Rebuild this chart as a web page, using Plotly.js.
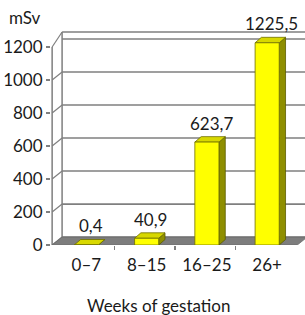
<!DOCTYPE html>
<html>
<head>
<meta charset="utf-8">
<script src="https://cdn.plot.ly/plotly-3.0.1.min.js"></script>
<style>html,body{margin:0;padding:0;background:#fff;}#chart{width:305px;height:315px;}</style>
</head>
<body>
<div id="chart"></div>
<script>
const categories = ['0–7', '8–15', '16–25', '26+'];
const doses = [0.4, 40.9, 623.7, 1225.5];
const doseLabels = ['0,4', '40,9', '623,7', '1225,5'];
const yTicks = [0, 200, 400, 600, 800, 1000, 1200];
const yTickText = ['0', '200', '400', '600', '800', '1000', '1200'];

// geometry (data units)
const X_MIN = -0.587, X_MAX = 3.628;
const Y_MAX = 1315;
const X_AXIS = -0.568;      // front vertical axis
const X_FLOOR_END = 3.50;
const WALL_DX = 0.165, WALL_DY = 48, WALL_TOP = 1291;
const BAR_W = 0.4, BAR_DX = 0.105, BAR_DY = 33;

const FONT = 'Lato, "Open Sans", sans-serif';
const FS = 17;
const TXT = '#1a1a1a';
const GRID = '#7f7f7f';

const shapes = [];
function line(x0, y0, x1, y1, color, width) {
  shapes.push({type: 'line', xref: 'x', yref: 'y', x0: x0, y0: y0, x1: x1, y1: y1,
    line: {color: color, width: width}, layer: 'below'});
}
function poly(pts, fill, lc) {
  const d = 'M' + pts.map(p => p[0] + ',' + p[1]).join('L') + 'Z';
  shapes.push({type: 'path', xref: 'x', yref: 'y', path: d, fillcolor: fill,
    line: {color: lc, width: 0.8}, layer: 'below'});
}

// back wall gridlines and left wall diagonals
yTicks.forEach(t => {
  line(X_AXIS + WALL_DX, t + WALL_DY, X_MAX, t + WALL_DY, GRID, 1.6);
  if (t < 1200) line(X_AXIS, t, X_AXIS + WALL_DX, t + WALL_DY, GRID, 1.2);
});
line(X_AXIS, 1200, X_AXIS + WALL_DX, WALL_TOP, GRID, 1.2);
line(X_AXIS + WALL_DX, WALL_TOP, X_MAX, WALL_TOP, GRID, 1.6);
line(X_AXIS + WALL_DX, WALL_DY, X_AXIS + WALL_DX, WALL_TOP, GRID, 1.5);
line(X_AXIS, 0, X_AXIS, 1200, GRID, 1.5);

// floor
poly([[X_AXIS, 0], [X_FLOOR_END, 0], [X_FLOOR_END + WALL_DX, WALL_DY], [X_AXIS + WALL_DX, WALL_DY]], '#7d7d7d', '#6a6a6a');

// bar top & side faces
const xs = categories.map((c, i) => i);
xs.forEach((x, i) => {
  const v = doses[i];
  const l = x - BAR_W / 2, r = x + BAR_W / 2;
  poly([[r, 0], [r, v], [r + BAR_DX, v + BAR_DY], [r + BAR_DX, BAR_DY]], '#8e8e00', '#5c5c00');
  poly([[l, v], [r, v], [r + BAR_DX, v + BAR_DY], [l + BAR_DX, v + BAR_DY]], '#d8d800', '#6e6e00');
});

const annotations = doses.map((v, i) => ({
  x: xs[i] + 0.07, y: v + BAR_DY, xref: 'x', yref: 'y', text: doseLabels[i],
  showarrow: false, yanchor: 'bottom', yshift: 1, font: {family: FONT, size: FS, color: TXT}
}));
annotations.push({xref: 'paper', yref: 'paper', x: 0, y: 1, xanchor: 'left', yanchor: 'middle',
  xshift: -44, yshift: 11, text: 'mSv', showarrow: false, font: {family: FONT, size: FS, color: TXT}});
annotations.push({xref: 'x', yref: 'paper', x: 1.2, y: 0, xanchor: 'center', yanchor: 'middle',
  yshift: -60, text: 'Weeks of gestation', showarrow: false, font: {family: FONT, size: FS, color: TXT}});

const data = [{
  type: 'bar', x: xs, y: doses, width: BAR_W,
  marker: {color: '#ffff00', line: {color: '#6e6e00', width: 0.8}},
  hoverinfo: 'skip'
}];

const layout = {
  width: 305, height: 315,
  margin: {l: 51, r: 0, t: 28, b: 70},
  paper_bgcolor: '#ffffff', plot_bgcolor: '#ffffff',
  showlegend: false,
  xaxis: {
    range: [X_MIN, X_MAX], tickmode: 'array', tickvals: xs, ticktext: categories,
    showgrid: false, zeroline: false, showline: false, ticks: '',
    ticklabelstandoff: 8,
    tickfont: {family: FONT, size: FS, color: TXT},
    minor: {tickmode: 'array', tickvals: xs.slice(0, -1).map(x => x + 0.47), ticks: 'outside', ticklen: 4, tickcolor: GRID, tickwidth: 1.2, showgrid: false}
  },
  yaxis: {
    range: [0, Y_MAX], tickmode: 'array', tickvals: yTicks, ticktext: yTickText,
    showgrid: false, zeroline: false, showline: false,
    ticks: 'outside', ticklen: 4, tickcolor: GRID, tickwidth: 1.2,
    tickfont: {family: FONT, size: FS, color: TXT}
  },
  shapes: shapes,
  annotations: annotations
};

Plotly.newPlot('chart', data, layout, {staticPlot: true, displayModeBar: false});
</script>
</body>
</html>
